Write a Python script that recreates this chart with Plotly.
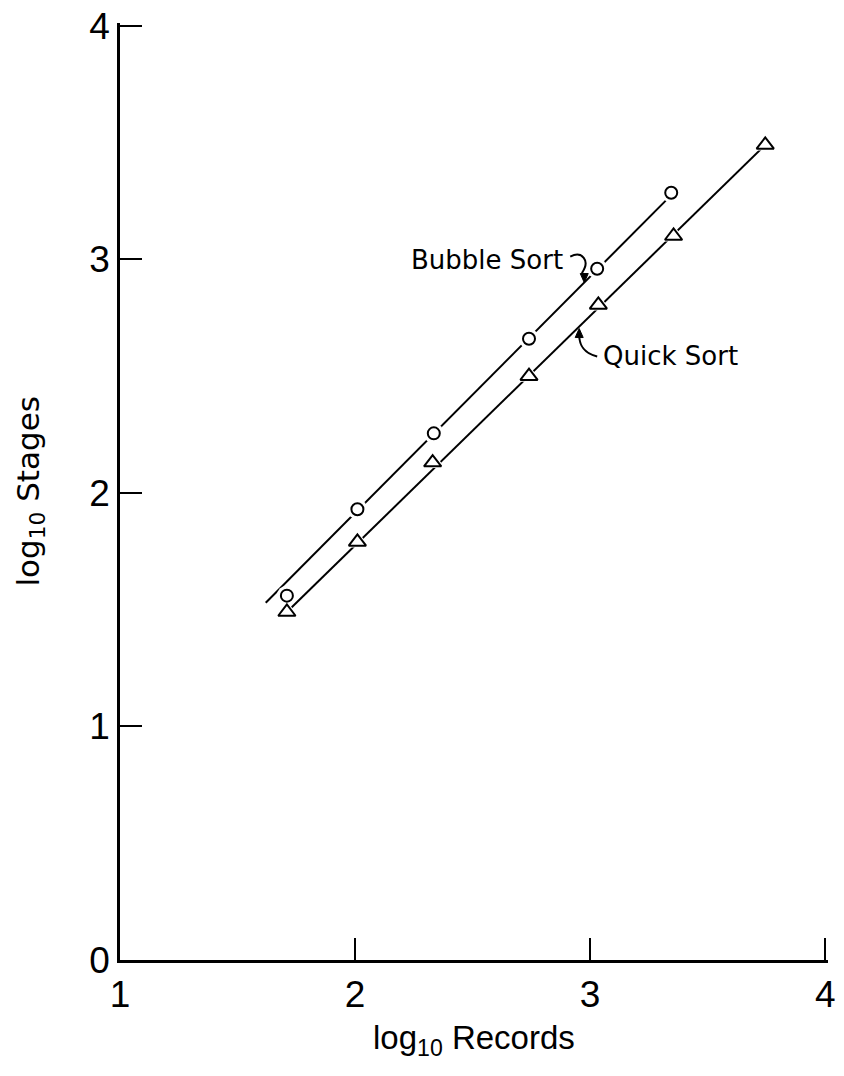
import numpy as np
import plotly.graph_objects as go

# Data
bubble_x = [1.71, 2.01, 2.335, 2.74, 3.03, 3.345]
bubble_y = [1.56, 1.93, 2.255, 2.66, 2.96, 3.285]
quick_x = [1.71, 2.01, 2.33, 2.74, 3.035, 3.355, 3.745]
quick_y = [1.49, 1.79, 2.13, 2.50, 2.805, 3.10, 3.49]

# fitted straight lines (end points)
bubble_fit_x = [1.62, 3.345]
bubble_fit_y = [1.53, 3.275]
quick_fit_x = [1.71, 3.745]
quick_fit_y = [1.49, 3.49]

x_ticks = [1, 2, 3, 4]
y_ticks = [0, 1, 2, 3, 4]

FONT = "Liberation Sans"
LFONT = "DejaVu Sans"

fig = go.Figure()

fig.add_trace(go.Scatter(x=bubble_fit_x, y=bubble_fit_y, mode="lines",
                         line=dict(color="black", width=2), hoverinfo="skip", showlegend=False))
fig.add_trace(go.Scatter(x=quick_fit_x, y=quick_fit_y, mode="lines",
                         line=dict(color="black", width=2), hoverinfo="skip", showlegend=False))
# white halos to create the gap around markers
fig.add_trace(go.Scatter(x=bubble_x, y=bubble_y, mode="markers",
                         marker=dict(symbol="circle", size=20, color="white", line=dict(width=0)),
                         hoverinfo="skip", showlegend=False))
fig.add_trace(go.Scatter(x=quick_x, y=quick_y, mode="markers",
                         marker=dict(symbol="triangle-up", size=22, color="white", line=dict(width=0)),
                         hoverinfo="skip", showlegend=False))
fig.add_trace(go.Scatter(x=bubble_x, y=bubble_y, mode="markers", name="Bubble Sort",
                         marker=dict(symbol="circle", size=12, color="white",
                                     line=dict(color="black", width=2)), showlegend=False))
fig.add_trace(go.Scatter(x=quick_x, y=quick_y, mode="markers", name="Quick Sort",
                         marker=dict(symbol="triangle-up", size=15, color="white",
                                     line=dict(color="black", width=2)), showlegend=False))

# labels
fig.add_annotation(x=2.895, y=2.996, text="Bubble Sort", showarrow=False,
                   xanchor="right", yanchor="middle",
                   font=dict(family=LFONT, size=26, color="black"))
fig.add_annotation(x=3.045, y=2.585, text="Quick Sort", showarrow=False,
                   xanchor="left", yanchor="middle",
                   font=dict(family=LFONT, size=26, color="black"))

# axis titles
fig.add_annotation(xref="paper", yref="paper", x=0.5, y=0, yshift=-80,
                   xanchor="center", yanchor="middle", showarrow=False,
                   text="log<sub>10</sub> Records",
                   font=dict(family=FONT, size=33, color="black"))
fig.add_annotation(xref="paper", yref="paper", x=-0.127, y=0.5,
                   xanchor="center", yanchor="middle", showarrow=False, textangle=-90,
                   text="log<sub>10</sub> Stages",
                   font=dict(family=LFONT, size=31, color="black"))

# curled leaders with arrowheads (pixel offsets relative to the point on each fitted line)
bx_tip = 2.975
by_tip = float(np.interp(bx_tip, bubble_fit_x, bubble_fit_y))
qx_tip = 2.945
qy_tip = float(np.interp(qx_tip, quick_fit_x, quick_fit_y))
fig.add_shape(type="path", xref="x", yref="y", xsizemode="pixel", ysizemode="pixel",
              xanchor=bx_tip, yanchor=by_tip,
              path="M -14,26 C -2,32 6,22 -2,10 L 0,4",
              line=dict(color="black", width=2))
fig.add_shape(type="path", xref="x", yref="y", xsizemode="pixel", ysizemode="pixel",
              xanchor=bx_tip, yanchor=by_tip,
              path="M 0,0 L -4,9 L 4,9 Z", fillcolor="black",
              line=dict(color="black", width=1))
fig.add_shape(type="path", xref="x", yref="y", xsizemode="pixel", ysizemode="pixel",
              xanchor=qx_tip, yanchor=qy_tip,
              path="M 20,-28 C 4,-24 2,-14 2,-6",
              line=dict(color="black", width=2))
fig.add_shape(type="path", xref="x", yref="y", xsizemode="pixel", ysizemode="pixel",
              xanchor=qx_tip, yanchor=qy_tip,
              path="M 2,0 L -2,-9 L 6,-9 Z", fillcolor="black",
              line=dict(color="black", width=1))

axis_common = dict(showline=True, linecolor="black", linewidth=2.5, showgrid=False,
                   zeroline=False, ticks="inside", ticklen=22, tickwidth=2, tickcolor="black",
                   tickfont=dict(family=FONT, size=37, color="black"), mirror=False,
                   automargin=False, ticklabeloverflow="allow")

fig.update_xaxes(range=[1, 4.012], tickvals=x_ticks, ticktext=[str(v) for v in x_ticks],
                 **axis_common)
fig.update_yaxes(range=[0, 4.012], tickvals=y_ticks, ticktext=[str(v) for v in y_ticks],
                 **axis_common)

fig.update_layout(width=844, height=1076, paper_bgcolor="white", plot_bgcolor="white",
                  margin=dict(l=120, r=16, t=23, b=116), showlegend=False)

fig.write_html("out.html", config={"displayModeBar": False},
               post_script="document.body.style.margin='0';document.body.style.overflow='hidden';")
